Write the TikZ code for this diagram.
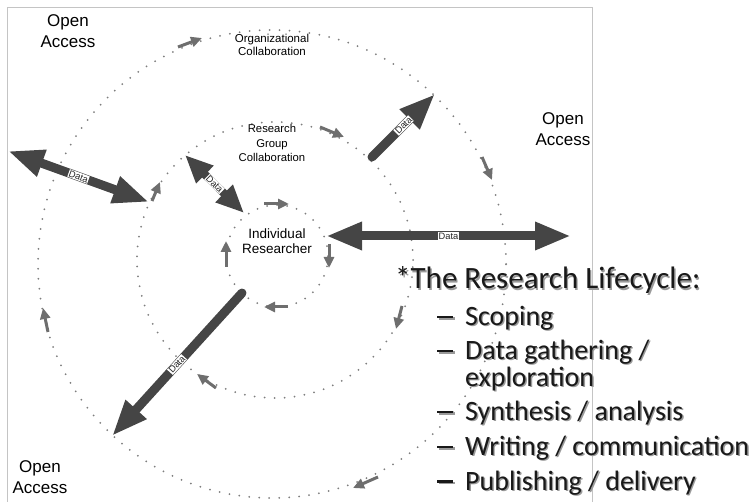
\documentclass[tikz,border=0pt]{standalone}
\usepackage{fontspec}
\setmainfont{Liberation Sans}
\newfontfamily\calibfont{Carlito}
\usetikzlibrary{arrows.meta}
\definecolor{dataarrow}{HTML}{454545}
\definecolor{flowarrow}{HTML}{6E6E6E}
\definecolor{dotgray}{HTML}{7E7E7E}
\definecolor{framegray}{HTML}{C4C4C4}
\definecolor{shadowgray}{HTML}{9A9A9A}
\newcommand{\lifedash}{\makebox[28pt][l]{\rule[7.3pt]{16pt}{2.3pt}}}
\begin{document}
\begin{tikzpicture}[x=1pt,y=-1pt,
  framestyle/.style={draw=framegray, line width=1pt},
  ring/.style={draw=dotgray, line width=2pt, line cap=round, dash pattern=on 0pt off 10pt},
  flow/.style={draw=flowarrow, line width=3pt, -{Triangle[length=11pt,width=10pt]}},
  dataone/.style={draw=dataarrow, line width=9pt, line cap=round, -{Triangle[length=36pt,width=26pt]}},
  datatwo/.style={draw=dataarrow, line width=9pt, {Triangle[length=36pt,width=26pt]}-{Triangle[length=36pt,width=26pt]}},
  datasmall/.style={draw=dataarrow, line width=8pt, {Triangle[length=28pt,width=23pt]}-{Triangle[length=28pt,width=23pt]}},
  datalabel/.style={fill=white, text=black!85, font=\fontsize{9.3}{10}\selectfont, inner sep=0.7pt, sloped},
  oa/.style={align=center, font=\fontsize{17}{21}\selectfont, inner sep=0pt},
  ringlabel/.style={align=center, inner sep=0pt},
  life/.style={anchor=base west, inner sep=0pt, text=black!90},
  lifeshadow/.style={anchor=base west, inner sep=0pt, text=shadowgray, xshift=1.4pt, yshift=-1.4pt},
  head/.style={font=\calibfont\fontsize{31}{31}\selectfont},
  item/.style={font=\calibfont\fontsize{28}{28}\selectfont}
]
\useasboundingbox (0,0) rectangle (755,502);

% frame
\coordinate (fbl) at (7,502);
\coordinate (ftl) at (7,8);
\coordinate (ftr) at (592,8);
\coordinate (fbr) at (592,502);
\draw[framestyle] (fbl) -- (ftl) -- (ftr) -- (fbr);

% rings
\coordinate (cout) at (272,264);
\coordinate (cmid) at (275,260);
\coordinate (cin) at (277,256);
\draw[ring] (cout) circle [radius=234pt];
\draw[ring] (cmid) circle [radius=138pt];
\draw[ring] (cin) circle [radius=51pt];

% flow arrows, outer ring
\coordinate (o1s) at (178,47);  \coordinate (o1e) at (202,38);
\coordinate (o2s) at (482,157); \coordinate (o2e) at (492,180);
\coordinate (o3s) at (378,477); \coordinate (o3e) at (353,488);
\coordinate (o4s) at (48,332);  \coordinate (o4e) at (43,308);
\draw[flow] (o1s) -- (o1e);
\draw[flow] (o2s) -- (o2e);
\draw[flow] (o3s) -- (o3e);
\draw[flow] (o4s) -- (o4e);
% flow arrows, middle ring
\coordinate (m1s) at (320,127); \coordinate (m1e) at (344,137);
\coordinate (m2s) at (402,306); \coordinate (m2e) at (396,329);
\coordinate (m3s) at (216,388); \coordinate (m3e) at (197,374);
\coordinate (m4s) at (152,201); \coordinate (m4e) at (160,182);
\draw[flow] (m1s) -- (m1e);
\draw[flow] (m2s) -- (m2e);
\draw[flow] (m3s) -- (m3e);
\draw[flow] (m4s) -- (m4e);
% flow arrows, inner ring
\coordinate (i1s) at (264,204); \coordinate (i1e) at (289,204);
\coordinate (i2s) at (329,244); \coordinate (i2e) at (329,268);
\coordinate (i3s) at (288,307); \coordinate (i3e) at (264,307);
\coordinate (i4s) at (226,267); \coordinate (i4e) at (226,241);
\draw[flow] (i1s) -- (i1e);
\draw[flow] (i2s) -- (i2e);
\draw[flow] (i3s) -- (i3e);
\draw[flow] (i4s) -- (i4e);

% data arrows
\coordinate (d1a) at (8,151);   \coordinate (d1b) at (149,202);
\coordinate (d2a) at (185,155); \coordinate (d2b) at (244,213);
\coordinate (d3a) at (372,157); \coordinate (d3b) at (435,94);
\coordinate (d4a) at (326,236); \coordinate (d4b) at (571,236);
\coordinate (d5a) at (242,293); \coordinate (d5b) at (112,436);
\draw[datatwo] (d1a) -- node[datalabel] {Data} (d1b);
\draw[datasmall] (d2a) -- node[datalabel] {Data} (d2b);
\draw[dataone] (d3a) -- node[datalabel] {Data} (d3b);
\draw[datatwo] (d4a) -- node[datalabel] {Data} (d4b);
\draw[dataone] (d5a) -- node[datalabel] {Data} (d5b);

% ring labels
\node[oa] (oatl) at (68,31.5) {Open\\Access};
\node[oa] (oar) at (563,129.5) {Open\\Access};
\node[oa] (oabl) at (40,477.5) {Open\\Access};
\node[ringlabel, font=\fontsize{11.5}{12.5}\selectfont] (org) at (272,45) {Organizational\\Collaboration};
\node[ringlabel, font=\fontsize{11.3}{14.5}\selectfont] (grp) at (272,143.4) {Research\\Group\\Collaboration};
\node[ringlabel, font=\fontsize{13.5}{15.5}\selectfont] (ind) at (277,241) {Individual\\Researcher};

% research lifecycle text
\node[lifeshadow, head] (hs) at (395,289) {*The Research Lifecycle:};
\node[life, head] (h) at (395,289) {*The Research Lifecycle:};
\node[lifeshadow, item] (l1s) at (437,325.5) {\lifedash Scoping};
\node[life, item] (l1) at (437,325.5) {\lifedash Scoping};
\node[lifeshadow, item] (l2s) at (437,359.5) {\lifedash Data gathering /};
\node[life, item] (l2) at (437,359.5) {\lifedash Data gathering /};
\node[lifeshadow, item] (l2bs) at (465,386.5) {exploration};
\node[life, item] (l2b) at (465,386.5) {exploration};
\node[lifeshadow, item] (l3s) at (437,420.5) {\lifedash Synthesis / analysis};
\node[life, item] (l3) at (437,420.5) {\lifedash Synthesis / analysis};
\node[lifeshadow, item] (l4s) at (437,455.5) {\lifedash Writing / communication};
\node[life, item] (l4) at (437,455.5) {\lifedash Writing / communication};
\node[lifeshadow, item] (l5s) at (437,490) {\lifedash Publishing / delivery};
\node[life, item] (l5) at (437,490) {\lifedash Publishing / delivery};
\end{tikzpicture}
\end{document}
